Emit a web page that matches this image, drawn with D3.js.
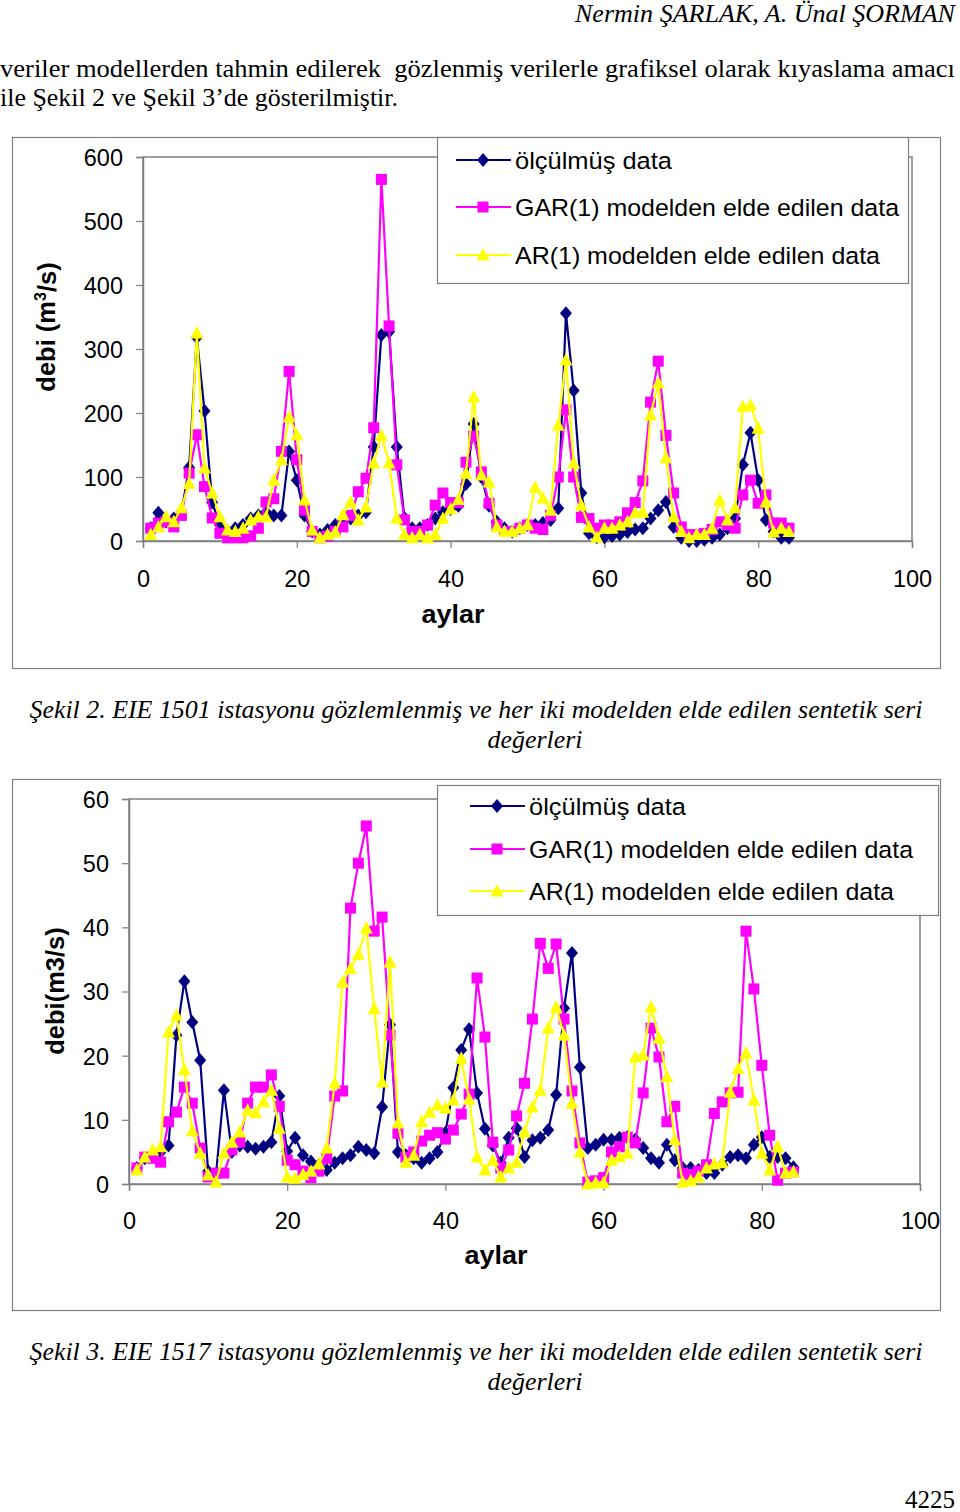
<!DOCTYPE html>
<html><head><meta charset="utf-8">
<script src="https://cdn.jsdelivr.net/npm/d3@7"></script>
<style>
html,body{margin:0;padding:0;background:#fff;}
svg{display:block;}
text{white-space:pre;}
</style></head>
<body>
<svg id="page" width="960" height="1512"></svg>
<script>
// ---------- DATA ----------
const months = d3.range(1, 85);
const xTicks = [0, 20, 40, 60, 80, 100];
const yTicks1 = [0, 100, 200, 300, 400, 500, 600];
const yTicks2 = [0, 10, 20, 30, 40, 50, 60];
const seriesNames = ["ölçülmüş data", "GAR(1) modelden elde edilen data", "AR(1) modelden elde edilen data"];

// Şekil 2 – EIE 1501
const c1Observed = [20,44,30,35,45,115,318,203,60,25, 15,20,25,35,40,45,40,40,140,95,
  40,15,10,17,25,30,35,40,45,147, 322,327,147,36,20,20,25,35,45,50,
  55,89,183,100,55,30,20,15,20,25, 25,28,33,51,356,235,75,12,6,6,
  8,10,14,18,20,35,48,61,22,5, 0,0,2,5,10,20,35,119,169,95, 33,15,5,5];
const c1Gar = [20,28,30,22,40,106,166,85,36,12, 5,5,5,8,20,61,66,140,265,127,
  48,15,5,8,15,22,40,77,98,177, 565,336,119,33,15,15,25,56,75,60,
  60,123,164,108,59,25,15,15,20,25, 20,18,40,100,205,100,37,35,20,25,
  25,30,44,60,94,217,281,165,75,22, 10,10,12,18,30,25,20,72,95,59, 72,28,28,20];
const c1Ar = [10,22,38,30,52,90,325,114,75,38, 17,15,20,33,38,38,95,127,194,166,
  64,17,5,10,14,41,61,33,53,122, 165,122,36,10,5,10,5,10,35,50,
  65,106,225,103,92,22,15,15,20,25, 84,67,48,181,283,122,56,22,6,20,
  20,25,30,44,45,197,247,130,38,15, 5,10,10,20,64,33,52,210,212,176, 61,14,20,15];

// Şekil 3 – EIE 1517
const c2Observed = [2.5,4,4.5,5,6,23.2,31.6,25.2,19.3,2, 1.5,14.6,5,6,5.8,5.5,5.8,6.5,13.7,5.1,
  7.2,4.5,3.5,3,2.2,3.3,4,4.5,5.8,5.3, 4.8,12,24.8,5,4.5,4,3.3,4,5,8,
  15,20.9,24.1,14.2,8.6,6,3.3,7.2,8.7,4.2, 6.8,7.2,8.4,13.9,27.4,36,18.2,5.6,6.1,6.9,
  6.9,7.2,7.3,6.9,5.6,4,3.3,6.1,3.7,2.5, 2.5,2.2,1.7,1.7,3,4.2,4.5,4,6.1,7.3, 4.2,4.2,4,2.6];
const c2Gar = [2.5,4.2,4,3.4,9.7,11.2,15.1,12.6,5.6,1.1, 1.7,1.7,5.3,6.5,12.6,15.1,15.1,17,12.1,3.7,
  3,2,1,2,4,13.7,14.5,43,50,55.8, 39.4,41.6,23.2,7.9,4.2,5,6.7,7.6,8,7,
  8.4,10.9,14,32.1,22.9,6.5,2.5,5.3,10.6,15.7, 25.7,37.5,33.6,37.4,25.7,14.5,6.4,0.3,0.5,1,
  5,5.8,7.3,6.4,14.2,24.3,19.8,9.7,12.1,1.7, 1.5,2,3,11,12.8,14.2,14.3,39.4,30.4,18.5, 7.6,0.6,1.7,1.9];
const c2Ar = [2.2,4.2,5.3,5.8,23.7,26.3,17.8,8.3,4.8,1.4, 0.3,4.8,6.5,8.1,11.5,11.1,12.8,14.6,8.7,1.1,
  0.9,1.5,2,3.1,5.6,15.7,31.5,33.6,35.8,39.9, 27.3,15.9,34.6,9.5,3.4,4.5,9.7,11.2,12.3,11.8,
  13.1,19.6,13.2,4.2,2.2,3.7,1.1,2.5,3.4,8.1, 12,14.6,24.3,27.6,23.2,12.6,5,0,0.2,0.2,
  3.7,4.2,4.8,19.8,20.1,27.6,22.7,16.7,6.9,0.3, 0.5,1.1,2.5,3.1,3.3,14.3,18,20.4,13.1,4.8, 2.2,5.8,1.7,1.9];

// ---------- DRAW ----------
const svg = d3.select("#page");
const GREY = "#808080";
const colors = ["#000080", "#FF00FF", "#FFFF00"];
const markerPaths = [
  "M0,-7L6,0L0,7L-6,0Z",          // diamond
  "M-5.5,-5.5H5.5V5.5H-5.5Z",      // square
  "M0,-7L6.5,5.5H-6.5Z"            // triangle
];
const SERIF = "'Liberation Serif','Times New Roman',serif";
const SANS = "'Liberation Sans',Arial,sans-serif";

function serifText(x, y, str, width, anchor, italic, size) {
  const t = svg.append("text").attr("x", x).attr("y", y)
    .attr("font-family", SERIF).attr("font-size", size)
    .attr("font-style", italic ? "italic" : "normal")
    .attr("text-anchor", anchor || "start").attr("fill", "#000").text(str);
  if (width) t.attr("textLength", width).attr("lengthAdjust", "spacingAndGlyphs");
  return t;
}

// page text
serifText(955, 22, "Nermin ŞARLAK, A. Ünal ŞORMAN", 380, "end", true, 26);
serifText(0, 77, "veriler modellerden tahmin edilerek  gözlenmiş verilerle grafiksel olarak kıyaslama amacı", 955, "start", false, 26);
serifText(0, 106, "ile Şekil 2 ve Şekil 3’de gösterilmiştir.", 398, "start", false, 26);

function drawChart(cfg) {
  const g = svg.append("g");
  g.append("rect").attr("x", cfg.frame[0] + 0.5).attr("y", cfg.frame[1] + 0.5)
    .attr("width", cfg.frame[2]).attr("height", cfg.frame[3])
    .attr("fill", "#fff").attr("stroke", GREY).attr("stroke-width", 1.2);

  const x = d3.scaleLinear().domain([0, 100]).range([cfg.plot[0], cfg.plot[2]]);
  const y = d3.scaleLinear().domain([0, cfg.yMax]).range([cfg.plot[3], cfg.plot[1]]);

  g.append("rect").attr("x", cfg.plot[0]).attr("y", cfg.plot[1])
    .attr("width", cfg.plot[2] - cfg.plot[0]).attr("height", cfg.plot[3] - cfg.plot[1])
    .attr("fill", "none").attr("stroke", GREY).attr("stroke-width", 1.5);

  const yAxis = d3.axisLeft(y).tickValues(cfg.yTicks).tickSize(7).tickPadding(13).tickFormat(d3.format("d"));
  const xAxis = d3.axisBottom(x).tickValues(xTicks).tickSize(7).tickPadding(cfg.xPad).tickFormat(d3.format("d"));
  const ya = g.append("g").attr("transform", `translate(${cfg.plot[0]},0)`).call(yAxis);
  const xa = g.append("g").attr("transform", `translate(0,${cfg.plot[3]})`).call(xAxis);
  [ya, xa].forEach(a => {
    a.select(".domain").attr("stroke", GREY).attr("stroke-width", 1.5);
    a.selectAll(".tick line").attr("stroke", GREY).attr("stroke-width", 1.2);
    a.selectAll(".tick text").attr("font-family", SANS).attr("font-size", 23.5).attr("fill", "#000");
  });
  ya.selectAll(".tick text").attr("dy", "0.36em");

  const line = d3.line().x((d, i) => x(months[i])).y(d => y(d));
  cfg.series.forEach((vals, si) => {
    const sg = g.append("g");
    sg.append("path").datum(vals).attr("d", line).attr("fill", "none")
      .attr("stroke", colors[si]).attr("stroke-width", 2.2).attr("stroke-linejoin", "round");
    sg.selectAll("path.m").data(vals).enter().append("path").attr("class", "m")
      .attr("d", markerPaths[si])
      .attr("transform", (d, i) => `translate(${x(months[i])},${y(d)})`)
      .attr("fill", colors[si]);
  });

  const L = cfg.legend;
  const lg = g.append("g");
  lg.append("rect").attr("x", L.x + 0.5).attr("y", L.y + 0.5).attr("width", L.w).attr("height", L.h)
    .attr("fill", "#fff").attr("stroke", GREY).attr("stroke-width", 1.2);
  seriesNames.forEach((name, si) => {
    const cy = L.rows[si];
    lg.append("line").attr("x1", L.lx).attr("x2", L.lx + 55).attr("y1", cy).attr("y2", cy)
      .attr("stroke", colors[si]).attr("stroke-width", 2.2);
    lg.append("path").attr("d", markerPaths[si]).attr("transform", `translate(${L.lx + 27},${cy})`)
      .attr("fill", colors[si]);
    lg.append("text").attr("x", L.lx + 59).attr("y", cy).attr("dy", "0.36em")
      .attr("font-family", SANS).attr("font-size", 24.5).attr("fill", "#000")
      .attr("textLength", L.tw[si]).attr("lengthAdjust", "spacingAndGlyphs").text(name);
  });

  g.append("text").attr("x", cfg.xTitle[0]).attr("y", cfg.xTitle[1]).attr("text-anchor", "middle")
    .attr("dy", "0.36em").attr("font-family", SANS).attr("font-weight", "bold").attr("font-size", 25)
    .attr("textLength", 63).attr("lengthAdjust", "spacingAndGlyphs").text("aylar");
  const yt = g.append("text").attr("transform", `translate(${cfg.yTitle[0]},${cfg.yTitle[1]}) rotate(-90)`)
    .attr("text-anchor", "middle").attr("dy", "0.36em")
    .attr("font-family", SANS).attr("font-weight", "bold").attr("font-size", 25.5);
  cfg.yTitleParts.forEach(p => {
    const ts = yt.append("tspan").text(p.t);
    if (p.sup) ts.attr("font-size", 16).attr("dy", "-0.6em");
    if (p.after) ts.attr("dy", "0.4em");
  });
}

drawChart({
  frame: [12, 137, 928, 531],
  plot: [143, 157, 912, 541],
  yMax: 600, yTicks: yTicks1, xPad: 22,
  series: [c1Observed, c1Gar, c1Ar],
  legend: {x: 437, y: 137, w: 471, h: 146, lx: 456, rows: [160, 207, 255], tw: [157, 384, 365]},
  xTitle: [453, 614], yTitle: [46, 327],
  yTitleParts: [{t: "debi (m"}, {t: "3", sup: true}, {t: "/s)", after: true}]
});

drawChart({
  frame: [12, 779, 928, 531],
  plot: [129, 799, 920, 1184],
  yMax: 60, yTicks: yTicks2, xPad: 21,
  series: [c2Observed, c2Gar, c2Ar],
  legend: {x: 437, y: 785, w: 501, h: 130, lx: 470, rows: [806, 849, 891], tw: [157, 384, 365]},
  xTitle: [496, 1255], yTitle: [55, 991],
  yTitleParts: [{t: "debi(m3/s)"}]
});

serifText(476, 718, "Şekil 2. EIE 1501 istasyonu gözlemlenmiş ve her iki modelden elde edilen sentetik seri", 893, "middle", true, 25);
serifText(535, 748, "değerleri", 95, "middle", true, 25);
serifText(476, 1360, "Şekil 3. EIE 1517 istasyonu gözlemlenmiş ve her iki modelden elde edilen sentetik seri", 893, "middle", true, 25);
serifText(535, 1390, "değerleri", 95, "middle", true, 25);
serifText(955, 1508, "4225", 50, "end", false, 25);
</script>
</body></html>
